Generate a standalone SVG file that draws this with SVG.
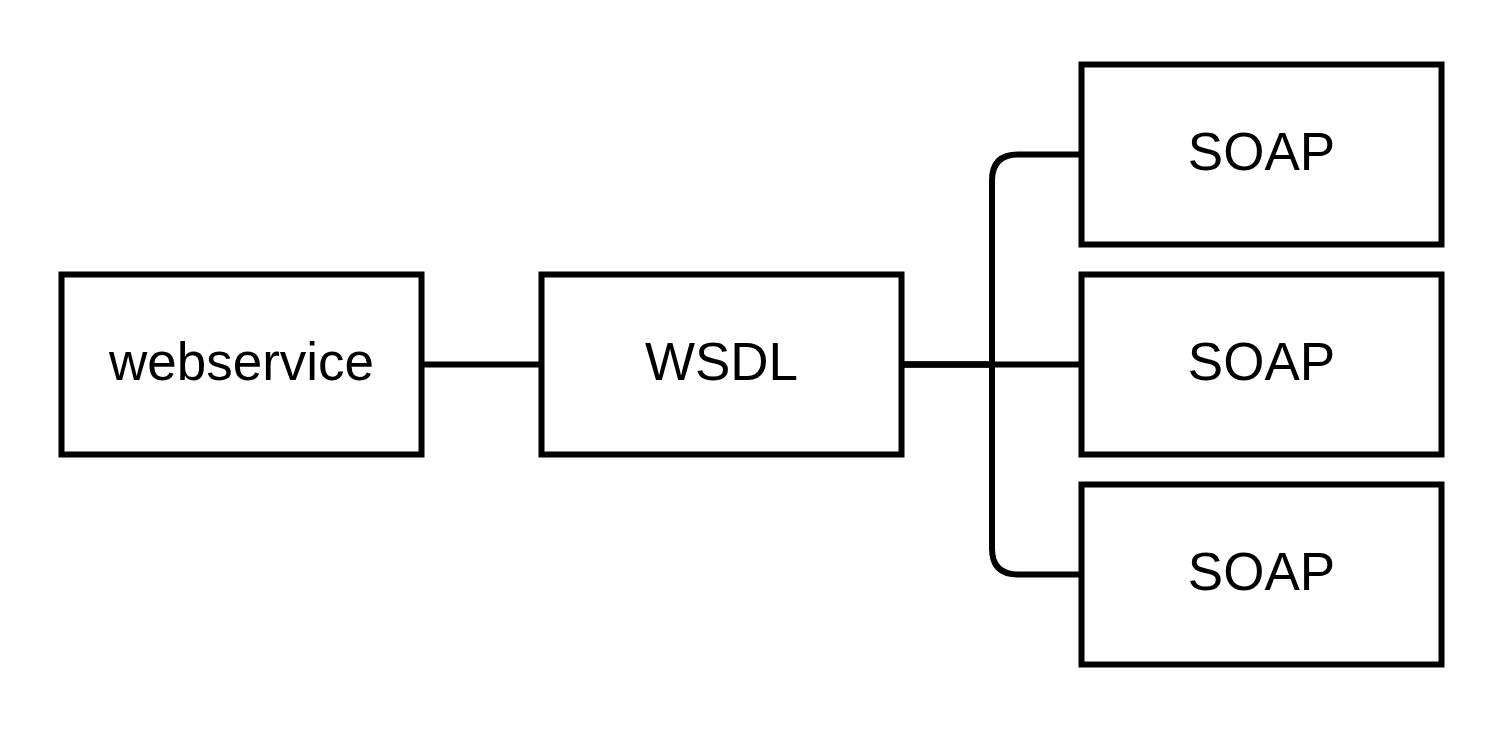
<svg xmlns="http://www.w3.org/2000/svg" width="1509" height="729" viewBox="0 0 1509 729">
<style>
.box{fill:#fff;stroke:#000;stroke-width:6}
.lbl{font-family:"Liberation Sans",Arial,sans-serif;font-size:53px;fill:#000;text-anchor:middle}
.edge{fill:none;stroke:#000;stroke-width:6}
</style>
<rect width="1509" height="729" fill="#fff"/>
<g id="connectors">
<path class="edge" d="M421.5 364.5H541.5"/>
<path class="edge" d="M901.5 364.5H1081.5"/>
<path class="edge" d="M901.5 364.5H992V180.5Q992 154.5 1018 154.5H1081.5"/>
<path class="edge" d="M901.5 364.5H992V548.5Q992 574.5 1018 574.5H1081.5"/>
</g>
<g id="webservice"><rect class="box" x="61.5" y="274.5" width="360" height="180"/><text class="lbl" x="241.5" y="380">webservice</text></g>
<g id="wsdl"><rect class="box" x="541.5" y="274.5" width="360" height="180"/><text class="lbl" x="721.5" y="380">WSDL</text></g>
<g id="soap1"><rect class="box" x="1081.5" y="64.5" width="360" height="180"/><text class="lbl" x="1261.5" y="170">SOAP</text></g>
<g id="soap2"><rect class="box" x="1081.5" y="274.5" width="360" height="180"/><text class="lbl" x="1261.5" y="380">SOAP</text></g>
<g id="soap3"><rect class="box" x="1081.5" y="484.5" width="360" height="180"/><text class="lbl" x="1261.5" y="590">SOAP</text></g>
</svg>
